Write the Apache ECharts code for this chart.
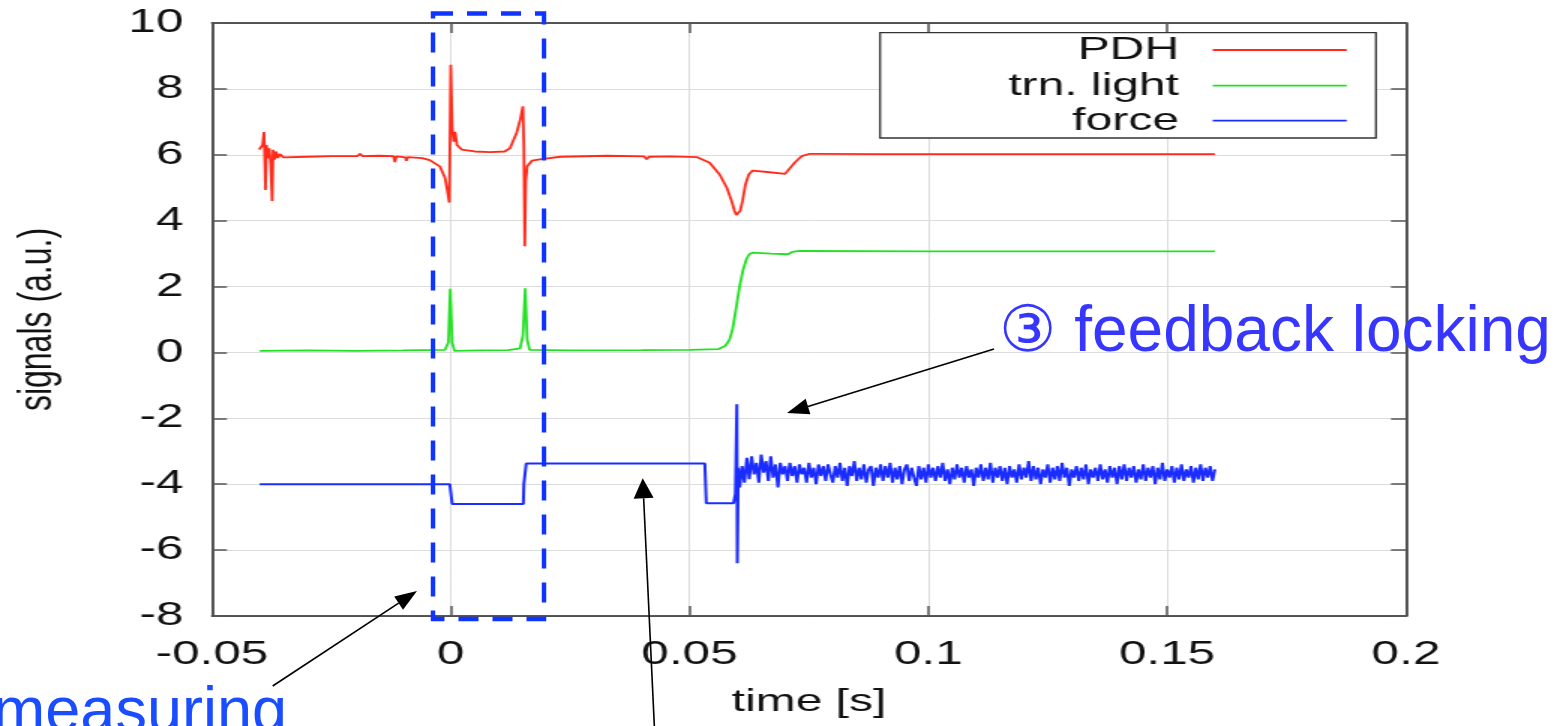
<!DOCTYPE html>
<html>
<head>
<meta charset="utf-8">
<title>signals vs time</title>
<script src="https://cdn.jsdelivr.net/npm/echarts@6.0.0/dist/echarts.min.js"></script>
<style>
  html, body { margin: 0; padding: 0; background: #fff; overflow: hidden; }
  /* the original figure is stretched 1.5x horizontally, so the plot is drawn narrow and stretched */
  #chart { position: absolute; left: 0; top: 0; width: 1041px; height: 726px; transform: scaleX(1.5); transform-origin: 0 0; }
  #notes { position: absolute; left: 0; top: 0; width: 1561px; height: 726px; }
</style>
</head>
<body>
<div id="chart"></div>
<div id="notes"></div>
<script>
var font = "'Liberation Sans', Arial, Helvetica, sans-serif";

var seriesNames = ['PDH', 'trn. light', 'force'];
var seriesColors = ['#ff2a1a', '#22e022', '#1a2cff'];

var xMin = -0.05, xMax = 0.2, xStep = 0.05;
var yMin = -8, yMax = 10, yStep = 2;

// PDH signal
var pdhTime = [-0.0401, -0.0394, -0.0391, -0.0389, -0.0388, -0.0386, -0.0383, -0.0380, -0.0377, -0.0374,
  -0.0372, -0.0369, -0.0366, -0.0362, -0.0358, -0.0350, -0.0300, -0.0250, -0.0195, -0.0190,
  -0.0185, -0.0150, -0.0120, -0.0117, -0.0114, -0.0095, -0.0093, -0.0090, -0.0060, -0.0044,
  -0.0023, -0.0012, -0.0007, -0.0003, 0.0000, 0.0003, 0.0006, 0.0009, 0.0013, 0.0023,
  0.0050, 0.0082, 0.0113, 0.0124, 0.0138, 0.0146, 0.0151, 0.0153, 0.0155, 0.0157,
  0.0160, 0.0165, 0.0170, 0.0190, 0.0230, 0.0327, 0.0405, 0.0410, 0.0415, 0.0460,
  0.0515, 0.0542, 0.0563, 0.0578, 0.0588, 0.0594, 0.0598, 0.0602, 0.0606, 0.0611,
  0.0617, 0.0624, 0.0632, 0.0668, 0.0700, 0.0706, 0.0720, 0.0735, 0.0752, 0.0900,
  0.1200, 0.1600];
var pdhValue = [6.16, 6.3, 6.69, 5.6, 4.93, 6.3, 5.9, 6.2, 5.7, 4.6,
  6.15, 5.85, 6.1, 5.9, 6.02, 5.92, 5.94, 5.96, 5.96, 6.03,
  5.96, 5.97, 5.96, 5.78, 5.95, 5.92, 5.82, 5.93, 5.9, 5.84,
  5.65, 5.3, 4.9, 4.55, 8.73, 6.8, 6.4, 6.7, 6.3, 6.16,
  6.1, 6.08, 6.1, 6.2, 6.67, 7.1, 7.47, 6.3, 3.22, 5.2,
  5.65, 5.6, 5.82, 5.87, 5.94, 5.97, 5.95, 5.86, 5.94, 5.95,
  5.93, 5.76, 5.4, 5.0, 4.6, 4.3, 4.17, 4.17, 4.3, 4.6,
  5.1, 5.4, 5.52, 5.47, 5.42, 5.37, 5.76, 5.96, 6.03, 6.02,
  6.02, 6.02];

// transmitted light
var trnTime = [-0.0400, -0.0300, -0.0200, -0.0100, -0.0012, -0.0005, -0.0001, 0.0003, 0.0008, 0.0060,
  0.0120, 0.0145, 0.0151, 0.0156, 0.0160, 0.0165, 0.0250, 0.0400, 0.0500, 0.0560,
  0.0575, 0.0584, 0.0590, 0.0595, 0.0605, 0.0612, 0.0619, 0.0625, 0.0632, 0.0670,
  0.0706, 0.0715, 0.0730, 0.1000, 0.1300, 0.1600];
var trnValue = [0.05, 0.06, 0.05, 0.06, 0.08, 0.3, 1.93, 0.3, 0.05, 0.06,
  0.07, 0.12, 0.5, 1.95, 0.4, 0.08, 0.06, 0.07, 0.08, 0.1,
  0.2, 0.4, 0.7, 1.12, 2.02, 2.5, 2.83, 2.98, 3.03, 3.0,
  2.98, 3.05, 3.08, 3.07, 3.07, 3.07];

// force: steps, then feedback noise
var forceTime = [-0.0400, -0.0002, 0.0003, 0.0152, 0.0153, 0.0157, 0.0158, 0.0532, 0.0535, 0.0592,
  0.0596, 0.0599, 0.0600, 0.0602];
var forceValue = [-4.0, -4.0, -4.6, -4.6, -4.0, -4.0, -3.37, -3.37, -4.58, -4.58,
  -4.3, -1.57, -6.4, -3.5];
var forceNoiseStart = 0.0605, forceNoiseStep = 0.0005;
var forceNoise = [
  -4.1, -3.45, -3.95, -3.2, -3.85, -3.15, -3.7, -3.35, -3.95, -3.1,
  -3.65, -3.3, -3.9, -3.15, -3.8, -3.4, -4.1, -3.35, -3.7, -3.45,
  -3.9, -3.35, -3.75, -3.45, -3.95, -3.4, -3.7, -3.5, -3.95, -3.35,
  -3.8, -3.5, -4.0, -3.4, -3.75, -3.45, -3.9, -3.4, -3.7, -3.95,
  -3.45, -3.8, -3.35, -3.9, -3.5, -4.05, -3.45, -3.75, -3.3, -3.9,
  -3.5, -3.85, -3.4, -3.95, -3.55, -3.45, -4.05, -3.5, -3.8, -3.4,
  -3.9, -3.45, -3.8, -3.35, -3.95, -3.5, -3.85, -3.45, -4.0, -3.55,
  -3.4, -3.9, -3.5, -3.8, -4.05, -3.45, -3.85, -3.5, -3.95, -3.4,
  -3.8, -3.5, -3.9, -3.45, -3.8, -3.35, -3.9, -3.55, -4.0, -3.5,
  -3.85, -3.4, -3.8, -3.5, -3.95, -3.45, -3.8, -3.55, -4.05, -3.5,
  -3.8, -3.4, -3.9, -3.5, -3.85, -3.35, -3.95, -3.5, -3.8, -3.45,
  -3.9, -3.5, -4.0, -3.45, -3.8, -3.55, -3.95, -3.4, -3.85, -3.5,
  -3.8, -3.3, -3.9, -3.45, -3.85, -3.5, -4.0, -3.55, -3.8, -3.4,
  -3.95, -3.5, -3.85, -3.45, -3.9, -3.35, -3.8, -3.5, -4.05, -3.55,
  -3.8, -3.45, -3.9, -3.5, -3.85, -3.4, -4.0, -3.55, -3.8, -3.5,
  -3.9, -3.4, -3.85, -3.55, -3.95, -3.45, -3.8, -3.5, -4.0, -3.45,
  -3.85, -3.4, -3.9, -3.5, -3.8, -3.45, -3.95, -3.55, -3.85, -3.4,
  -3.9, -3.5, -3.8, -3.45, -4.0, -3.5, -3.85, -3.35, -3.9, -3.55,
  -3.8, -3.45, -3.95, -3.5, -3.85, -3.4, -3.9, -3.55, -3.8, -3.45,
  -3.95, -3.5, -3.85, -3.4, -3.9, -3.5, -3.8, -3.45, -3.9, -3.55];

function pairs(t, v) {
  return t.map(function (x, i) { return [x, v[i]]; });
}
var forceData = pairs(forceTime, forceValue).concat(forceNoise.map(function (v, i) {
  return [+(forceNoiseStart + i * forceNoiseStep).toFixed(4), v];
}));
var allData = [pairs(pdhTime, pdhValue), pairs(trnTime, trnValue), forceData];
var lineWidths = [1.8, 1.8, 2];

var frame = { show: true, onZero: false, lineStyle: { color: '#222', width: 1.5 } };
var ticks = { show: true, inside: true, length: 10, lineStyle: { color: '#555', width: 1.5 } };
var grid = { color: '#dcdcdc', width: 1 };

// legend, drawn in the (unstretched) chart coordinates
var legendRows = [50, 85.7, 120.7];
var legendGraphic = [{
  type: 'rect', z: 10,
  shape: { x: 586.7, y: 32.7, width: 330.6, height: 105.3 },
  style: { fill: '#fff', stroke: '#333', lineWidth: 1.3 }
}];
seriesNames.forEach(function (name, i) {
  legendGraphic.push({
    type: 'text', z: 11, x: 786, y: legendRows[i],
    style: { text: name, fontSize: 32, fontFamily: font, fill: '#111', align: 'right', verticalAlign: 'middle' }
  });
  legendGraphic.push({
    type: 'line', z: 11,
    shape: { x1: 808.5, y1: legendRows[i], x2: 897.8, y2: legendRows[i] },
    style: { stroke: seriesColors[i], lineWidth: 1.8 }
  });
});

var chart = echarts.init(document.getElementById('chart'));
chart.setOption({
  animation: false,
  textStyle: { fontFamily: font },
  grid: { left: 141.3, right: 103.7, top: 23, bottom: 110 },
  xAxis: [{
    type: 'value', min: xMin, max: xMax, interval: xStep,
    name: 'time [s]', nameLocation: 'middle', nameGap: 70,
    nameTextStyle: { fontSize: 32, color: '#111', fontFamily: font },
    axisLine: frame, axisTick: ticks,
    axisLabel: { fontSize: 33, color: '#111', margin: 22, fontFamily: font,
      formatter: function (v) { return String(+v.toFixed(2)); } },
    splitLine: { show: true, lineStyle: grid }
  }, {
    type: 'value', position: 'top', min: xMin, max: xMax, interval: xStep,
    axisLine: frame, axisTick: ticks, axisLabel: { show: false }, splitLine: { show: false }
  }],
  yAxis: [{
    type: 'value', min: yMin, max: yMax, interval: yStep,
    name: 'signals (a.u.)', nameLocation: 'middle', nameGap: 100,
    nameTextStyle: { fontSize: 32, color: '#111', fontFamily: font },
    axisLine: frame, axisTick: ticks,
    axisLabel: { fontSize: 33, color: '#111', margin: 19, fontFamily: font },
    splitLine: { show: true, lineStyle: grid }
  }, {
    type: 'value', position: 'right', min: yMin, max: yMax, interval: yStep,
    axisLine: frame, axisTick: ticks, axisLabel: { show: false }, splitLine: { show: false }
  }],
  series: seriesNames.map(function (name, i) {
    return {
      name: name, type: 'line', xAxisIndex: 0, yAxisIndex: 0,
      data: allData[i], showSymbol: false, symbol: 'none',
      lineStyle: { color: seriesColors[i], width: lineWidths[i] },
      itemStyle: { color: seriesColors[i] }
    };
  }),
  graphic: legendGraphic
});

// annotations on top, in real pixels
function arrow(tail, tip, len, half) {
  var dx = tip[0] - tail[0], dy = tip[1] - tail[1];
  var d = Math.sqrt(dx * dx + dy * dy), ux = dx / d, uy = dy / d;
  var bx = tip[0] - ux * len, by = tip[1] - uy * len;
  return [{
    type: 'line', shape: { x1: tail[0], y1: tail[1], x2: bx, y2: by },
    style: { stroke: '#000', lineWidth: 1.6 }
  }, {
    type: 'polygon',
    shape: { points: [tip, [bx - uy * half, by + ux * half], [bx + uy * half, by - ux * half]] },
    style: { fill: '#000' }
  }];
}

var notes = echarts.init(document.getElementById('notes'));
notes.setOption({
  animation: false,
  graphic: [{
    type: 'rect', shape: { x: 433, y: 13.5, width: 111, height: 605.5 },
    style: { fill: 'none', stroke: '#1034ff', lineWidth: 4.5, lineDash: [20, 14] }
  }, {
    type: 'text', x: 999, y: 333,
    style: { text: '\u2462 feedback locking', fontSize: 64, fill: '#3636ff', verticalAlign: 'middle',
      fontFamily: "'Liberation Sans', 'DejaVu Sans', 'Noto Sans CJK JP', sans-serif" }
  }, {
    type: 'text', x: 287, y: 714,
    style: { text: 'measuring', fontSize: 63, fill: '#1a4dff', align: 'right', verticalAlign: 'middle', fontFamily: font }
  }].concat(arrow([994, 349], [787, 413], 22, 8))
    .concat(arrow([272.7, 686], [417, 591], 22, 8))
    .concat(arrow([655, 740], [642.7, 478.3], 20, 10))
});
</script>
</body>
</html>
